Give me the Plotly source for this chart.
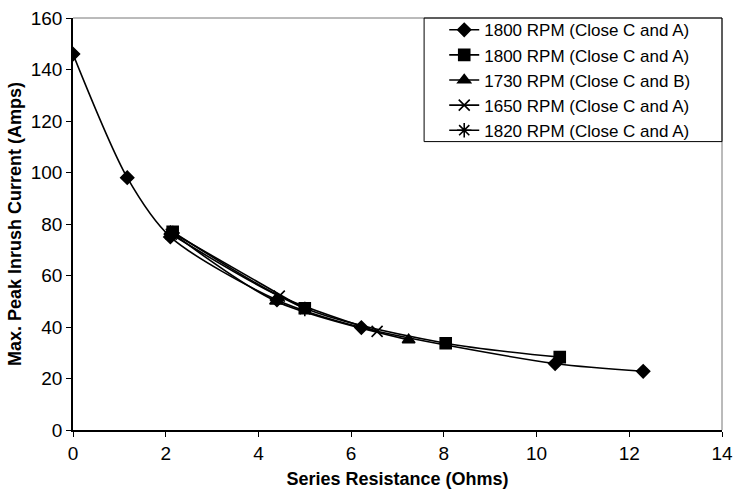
import plotly.graph_objects as go

names = ["1800 RPM (Close C and A)", "1800 RPM (Close C and A)", "1730 RPM (Close C and B)",
         "1650 RPM (Close C and A)", "1820 RPM (Close C and A)"]

x_1800a = [0, 1.17, 2.1, 4.4, 6.22, 10.4, 12.3]
y_1800a = [146, 98, 75, 50.5, 39.8, 25.8, 22.8]

x_1800b = [2.15, 5.0, 8.04, 10.5]
y_1800b = [77, 47.3, 33.7, 28.3]

x_1730 = [2.1, 4.38, 7.24]
y_1730 = [77, 50, 35]

x_1650 = [2.12, 4.45, 6.56]
y_1650 = [76, 52, 38.3]

x_1820 = [2.15, 5.0]
y_1820 = [76.5, 47]

xs = [x_1800a, x_1800b, x_1730, x_1650, x_1820]
ys = [y_1800a, y_1800b, y_1730, y_1650, y_1820]
symbols = ["diamond", "square", "triangle-up", "x-thin-open", "asterisk-open"]
sizes = [10, 11, 11, 11, 12]

fig = go.Figure()
for n, x, y, s, sz in zip(names, xs, ys, symbols, sizes):
    fig.add_trace(go.Scatter(
        x=x, y=y, name=n, mode="lines+markers",
        line=dict(color="black", width=1.6, shape="spline", smoothing=0.8),
        marker=dict(symbol=s, size=sz, color="black", line=dict(color="black", width=1.6)),
    ))

fig.update_layout(
    width=734, height=493,
    margin=dict(l=73, r=12, t=16, b=63),
    paper_bgcolor="white", plot_bgcolor="white",
    font=dict(family="Arial, Liberation Sans, sans-serif", color="black", size=19),
    legend=dict(x=0.572, y=1.014, xanchor="left", yanchor="top",
                borderwidth=0, bgcolor="rgba(0,0,0,0)",
                font=dict(size=17), tracegroupgap=0, itemwidth=30),
    showlegend=True,
)
fig.update_xaxes(range=[0, 14], dtick=2, showgrid=False, zeroline=False,
                 showline=True, linecolor="black", linewidth=1.5,
                 ticks="outside", ticklen=5, tickcolor="black",
                 ticklabeloverflow="allow", automargin=False,
                 title=dict(text="<b>Series Resistance (Ohms)</b>", font=dict(size=18), standoff=10))
fig.update_yaxes(range=[0, 160], dtick=20, showgrid=False, zeroline=False,
                 showline=True, linecolor="black", linewidth=1.5,
                 ticks="outside", ticklen=5, tickcolor="black", automargin=False,
                 title=dict(text="<b>Max. Peak Inrush Current (Amps)</b>", font=dict(size=18), standoff=4))
fig.add_shape(type="line", xref="paper", yref="paper", x0=0, x1=1, y0=1, y1=1,
              line=dict(color="#777", width=1))
fig.add_shape(type="line", xref="paper", yref="paper", x0=1, x1=1, y0=0, y1=1,
              line=dict(color="#777", width=1))
# legend frame
fig.add_shape(type="rect", xref="paper", yref="paper", x0=0.541, x1=1.0, y0=0.700, y1=1.0,
              line=dict(color="black", width=1), fillcolor="rgba(0,0,0,0)", layer="above")

fig.write_html("out.html")
